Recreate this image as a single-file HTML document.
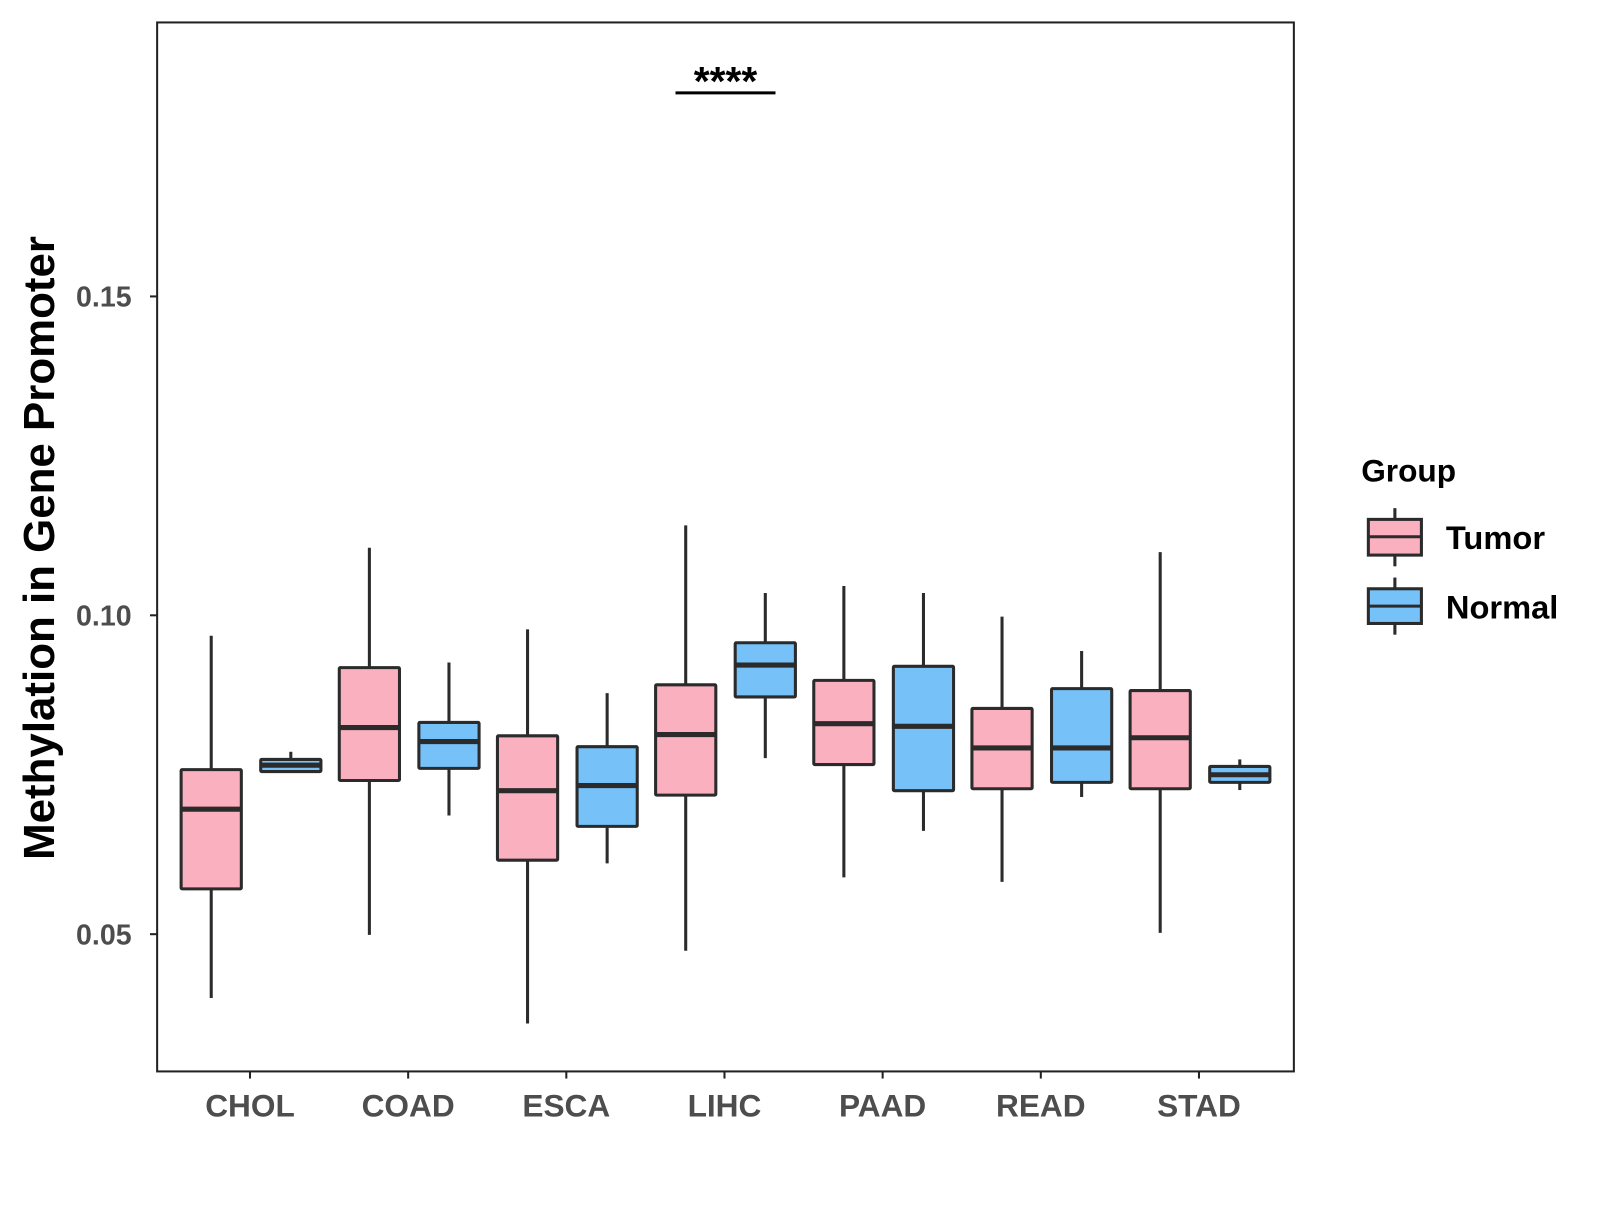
<!DOCTYPE html>
<html><head><meta charset="utf-8"><style>
body{margin:0;background:#fff}
text{font-family:"Liberation Sans",Arial,sans-serif;font-weight:bold}
</style></head><body>
<svg id="chart" width="1600" height="1200" xmlns="http://www.w3.org/2000/svg">
<rect width="1600" height="1200" fill="#fff"/>
<g transform="scale(1.0204)">
<rect x="154" y="22" width="1114" height="1028" fill="none" stroke="#222" stroke-width="2"/>
<g id="marks"></g>
<text transform="translate(53,537) rotate(-90)" text-anchor="middle" font-size="43" fill="#000">Methylation in Gene Promoter</text>
<line x1="662" y1="91" x2="760" y2="91" stroke="#000" stroke-width="3"/>
<text x="711" y="93" text-anchor="middle" font-size="40" fill="#000">****</text>
<text x="1334" y="472" font-size="31" fill="#000">Group</text>
<g>
<line x1="1367" y1="498" x2="1367" y2="555" stroke="#2b2b2b" stroke-width="3"/>
<rect x="1341" y="509" width="52" height="35" fill="#fbb0c0" stroke="#2b2b2b" stroke-width="3"/>
<line x1="1341" y1="526" x2="1393" y2="526" stroke="#2b2b2b" stroke-width="3"/>
<text x="1417" y="538" font-size="32" fill="#000">Tumor</text></g>
<g>
<line x1="1367" y1="566" x2="1367" y2="622" stroke="#2b2b2b" stroke-width="3"/>
<rect x="1341" y="577" width="52" height="34" fill="#76c1f7" stroke="#2b2b2b" stroke-width="3"/>
<line x1="1341" y1="594" x2="1393" y2="594" stroke="#2b2b2b" stroke-width="3"/>
<text x="1417" y="606" font-size="32" fill="#000">Normal</text></g>
</g>
</svg>
<script>
const categories=["CHOL","COAD","ESCA","LIHC","PAAD","READ","STAD"];
// [lowerWhisker, q1, median, q3, upperWhisker]
const tumorStats=[[0.040,0.0571,0.0696,0.0758,0.0968],[0.0499,0.0741,0.0824,0.0918,0.1106],[0.036,0.0616,0.0725,0.0811,0.0978],[0.0474,0.0718,0.0813,0.0891,0.1141],[0.0589,0.0766,0.083,0.0898,0.1046],[0.0582,0.0728,0.0792,0.0854,0.0998],[0.0502,0.0728,0.0808,0.0882,0.1099]];
const normalStats=[[0.0755,0.0755,0.0765,0.0774,0.0786],[0.0686,0.076,0.0802,0.0832,0.0926],[0.0611,0.0669,0.0733,0.0794,0.0878],[0.0776,0.0872,0.0922,0.0957,0.1035],[0.0662,0.0725,0.0826,0.092,0.1035],[0.0715,0.0738,0.0792,0.0885,0.0944],[0.0726,0.0738,0.075,0.0763,0.0774]];
const yTicks=[0.05,0.10,0.15];
const yTickLabels=["0.05","0.10","0.15"];
const NS="http://www.w3.org/2000/svg";
const svg=document.getElementById('marks');
function y(v){return 603-(v-0.10)*6250;}
function x(i){return 245+i*155;}
function mk(tag,attrs){const e=document.createElementNS(NS,tag);for(const k in attrs)e.setAttribute(k,attrs[k]);svg.appendChild(e);return e;}
yTicks.forEach((t,i)=>{
 const l=mk('line',{x1:147,x2:154,y1:y(t),y2:y(t),stroke:'#222','stroke-width':2});
 
 
 const tx=mk('text',{x:129,y:y(t)+10,'text-anchor':'end','font-size':28,fill:'#4d4d4d'});
 tx.textContent=yTickLabels[i];
 
 
});
categories.forEach((c,i)=>{
 const l=mk('line',{x1:x(i),x2:x(i),y1:1050,y2:1057,stroke:'#222','stroke-width':2});
 
 
 const tx=mk('text',{x:x(i),y:1094,'text-anchor':'middle','font-size':31,fill:'#4d4d4d'});
 tx.textContent=c;
 
 
});
function box(s,cx,fill,name){
 const g=document.createElementNS(NS,'g');svg.appendChild(g);
 
 
 const add=(tag,a)=>{const e=document.createElementNS(NS,tag);for(const k in a)e.setAttribute(k,a[k]);g.appendChild(e);};
 add('line',{x1:cx,x2:cx,y1:y(s[4]),y2:y(s[0]),stroke:'#2b2b2b','stroke-width':3});
 add('rect',{x:cx-29.5,y:y(s[3]),width:59,height:Math.max(y(s[1])-y(s[3]),0.1),fill:fill,stroke:'#2b2b2b','stroke-width':3,rx:1});
 add('line',{x1:cx-29.5,x2:cx+29.5,y1:y(s[2]),y2:y(s[2]),stroke:'#2b2b2b','stroke-width':5});
}
categories.forEach((c,i)=>{
 box(tumorStats[i],x(i)-38,'#fbb0c0','box-tumor-'+c.toLowerCase());
 box(normalStats[i],x(i)+40,'#76c1f7','box-normal-'+c.toLowerCase());
});
</script>
</body></html>
